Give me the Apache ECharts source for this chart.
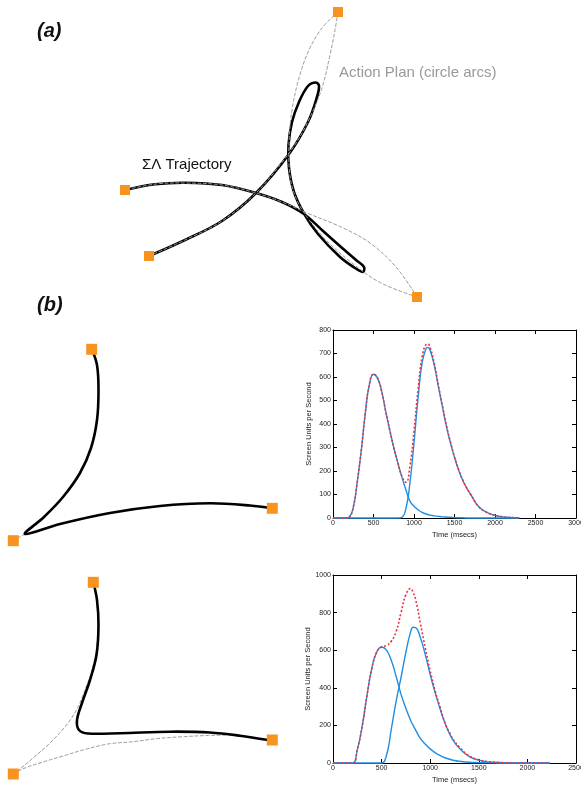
<!DOCTYPE html>
<html>
<head>
<meta charset="utf-8">
<script src="https://cdn.jsdelivr.net/npm/echarts@6/dist/echarts.min.js"></script>
<style>
  html, body { margin: 0; padding: 0; background: #fff; }
  #chart { width: 581px; height: 787px; }
</style>
</head>
<body>
<div id="chart"></div>
<script>
// ---- panel (a): sigma-lognormal trajectory and its action plan (figure units) ----
const trajA = [
  [149, 256], [185, 240], [222, 221], [256, 193], [289, 154], [308, 122], [317, 97], [319, 86],
  [316, 82.5], [308, 86], [299, 102], [292, 122], [288.5, 145], [289, 168], [294, 192], [303.7, 213],
  [318, 234], [340, 257], [355, 268], [363, 272], [364, 267], [356, 260], [341, 247], [323, 231],
  [304, 214], [282, 202], [256, 193], [222, 185], [185, 182.7], [155, 184.3], [125, 190]
];
const planA1 = [[149, 256], [185, 240], [222, 221], [256, 193], [280, 165], [298, 140], [312, 113], [322, 88], [330, 55], [335, 30], [338, 12]];
const planA2 = [[338, 12], [322, 28], [309, 50], [299, 78], [292, 110], [289, 143], [290, 176], [296, 198], [307, 217], [326, 240], [352, 263], [381, 283], [417, 297]];
const planA3 = [[417, 297], [396, 267], [370, 243], [341, 227], [307, 213], [282, 202], [256, 193], [222, 185], [185, 183], [156, 184], [125, 190]];
const targetsA = [[125, 190], [149, 256], [338, 12], [417, 297]];

// ---- panel (b), top: trajectory ----
const trajB1 = [
  [91.7, 349], [97, 365], [98.5, 390], [97, 420], [91, 448], [80, 473], [63, 497], [44, 517], [25, 534],
  [60, 524], [110, 513], [160, 506], [210, 503.3], [250, 505.5], [272, 508.3]
];
const planB1 = [[25, 534], [13.3, 540.7]];
const targetsB1 = [[91.7, 349.3], [13.3, 540.7], [272.3, 508.3]];

// ---- panel (b), bottom: trajectory and action plan ----
const trajB2 = [
  [93.3, 582], [97, 600], [98.5, 625], [96.5, 655], [90, 680], [82, 703], [77, 720], [79, 730],
  [88, 733.5], [120, 733.2], [170, 731.7], [210, 732.5], [240, 735.7], [268, 740]
];
const planB2a = [[93.3, 582.3], [97, 600], [98.3, 620], [97, 645], [92, 670], [85, 690], [78, 707], [68, 723], [50, 743], [33, 758], [20, 769], [13.3, 774]];
const planB2b = [[13.3, 774], [25, 768], [43, 762], [63, 756], [83, 750], [108, 744], [133, 741.7], [158, 738.5], [183, 736.7], [208, 735.5], [233, 735.3], [255, 737.5], [272.3, 740]];
const targetsB2 = [[93.3, 582.3], [13.3, 774], [272.3, 740]];

// ---- speed profiles, top ----
const time1 = [0, 100, 170, 200, 250, 300, 350, 400, 450, 500, 550, 600, 650, 700, 750, 800, 850, 900, 950, 1000,
  1050, 1100, 1150, 1170, 1200, 1250, 1300, 1350, 1400, 1450, 1500, 1550, 1600, 1650, 1700, 1800, 1900, 2000, 2100, 2200, 2300];
const stroke1a = [0, 0, 0, 3, 45, 155, 290, 450, 570, 612, 595, 540, 455, 375, 300, 235, 175, 120, 72, 50,
  35, 24, 17, 15, 12, 9, 7, 5, 4, 3, 2, 1, 1, 0, 0, 0, 0, 0, 0, 0, 0];
const stroke1b = [0, 0, 0, 0, 0, 0, 0, 0, 0, 0, 0, 0, 0, 0, 0, 0, 3, 40, 150, 320,
  510, 660, 722, 726, 712, 650, 560, 475, 390, 320, 258, 205, 162, 128, 100, 48, 24, 11, 5, 2, 1];
const total1 = [0, 0, 0, 3, 45, 155, 290, 450, 570, 612, 595, 540, 455, 375, 300, 235, 178, 152, 222, 370,
  545, 684, 739, 741, 724, 659, 567, 480, 394, 323, 260, 206, 163, 128, 100, 48, 24, 11, 5, 2, 1];

// ---- speed profiles, bottom ----
const time2 = [0, 100, 200, 250, 300, 350, 400, 450, 500, 550, 600, 650, 700, 750, 800, 825, 850, 900, 950, 1000,
  1050, 1100, 1150, 1200, 1250, 1300, 1400, 1500, 1600, 1700, 1800, 1900, 2000, 2100, 2230];
const stroke2a = [0, 0, 0, 70, 195, 360, 505, 590, 617, 600, 545, 460, 365, 290, 225, 200, 175, 130, 100, 75,
  55, 40, 28, 20, 13, 9, 4, 2, 1, 0, 0, 0, 0, 0, 0];
const stroke2b = [0, 0, 0, 0, 0, 0, 0, 0, 0, 40, 180, 330, 455, 590, 700, 722, 720, 665, 575, 470,
  375, 290, 215, 155, 110, 78, 35, 15, 6, 3, 1, 0, 0, 0, 0];
const total2 = [0, 0, 0, 70, 195, 360, 505, 590, 617, 625, 648, 700, 800, 895, 928, 905, 870, 740, 610, 490,
  385, 300, 215, 160, 115, 85, 38, 17, 7, 3, 1, 0, 0, 0, 0];

const FONT = "Liberation Sans";
const BLUE = "#1f8fe3";
const RED = "#ea3340";
const ORANGE = "#f7931e";

const pairs = (xs, ys) => xs.map((x, i) => [x, ys[i]]);

function plotAxes(gridIndex, max, step) {
  return {
    gridIndex, min: 0, max, interval: step, type: "value",
    axisLine: { show: true, onZero: false, lineStyle: { color: "#000", width: 1 } },
    axisTick: { show: true, inside: true, length: 4, lineStyle: { color: "#000" } },
    splitLine: { show: false },
  };
}
const tickLabel = { fontFamily: FONT, fontSize: 7, color: "#222", margin: 2, formatter: (v) => String(v) };
const nameStyle = { fontFamily: FONT, fontSize: 7.5, color: "#222" };

function xAxes(gridIndex, max, step) {
  const base = plotAxes(gridIndex, max, step);
  return [
    { ...base, position: "bottom", name: "Time (msecs)", nameLocation: "middle", nameGap: 13,
      nameTextStyle: nameStyle, axisLabel: tickLabel },
    { ...base, position: "top", axisLabel: { show: false } },
  ];
}

function yAxes(gridIndex, max, step) {
  const base = plotAxes(gridIndex, max, step);
  return [
    { ...base, position: "left", name: "Screen Units per Second", nameLocation: "middle", nameGap: 20,
      nameTextStyle: nameStyle, axisLabel: tickLabel },
    { ...base, position: "right", axisLabel: { show: false } },
  ];
}

// pen paths: one smooth polyline through all points, placed via the hidden axes
function pathSeries(points, style, z) {
  return {
    type: "custom", xAxisIndex: 0, yAxisIndex: 0, data: points, z, silent: true,
    renderItem: (params, api) => {
      if (params.dataIndex !== 0) return null;
      return {
        type: "polyline",
        shape: { points: points.map((p) => api.coord(p)), smooth: 0.35 },
        style: { fill: null, lineCap: "round", lineJoin: "round", ...style },
      };
    },
  };
}
const planStyle = { stroke: "#9a9a9a", lineWidth: 1, lineDash: [3, 2.5] };
const trajStyle = { stroke: "#000", lineWidth: 2.6 };

function targets(data, size) {
  return {
    type: "scatter", xAxisIndex: 0, yAxisIndex: 0, data, symbol: "rect", symbolSize: size,
    itemStyle: { color: ORANGE, opacity: 1 }, silent: true, z: 5,
  };
}

function speed(xi, yi, data, color, dotted) {
  return {
    type: "line", xAxisIndex: xi, yAxisIndex: yi, data, smooth: 0.5,
    showSymbol: false, symbol: "none", clip: false, silent: true, z: dotted ? 4 : 3,
    lineStyle: dotted ? { color, width: 1.6, type: [2, 2] } : { color, width: 1.4 },
  };
}

const chart = echarts.init(document.getElementById("chart"), null, { renderer: "canvas" });
chart.setOption({
  animation: false,
  backgroundColor: "#fff",
  grid: [
    { left: 0, top: 0, width: 581, height: 787, containLabel: false, outerBoundsMode: "none" },
    { left: 333, top: 330, width: 243, height: 188, containLabel: false, outerBoundsMode: "none" },
    { left: 333, top: 575, width: 243, height: 188, containLabel: false, outerBoundsMode: "none" },
  ],
  xAxis: [
    { gridIndex: 0, type: "value", min: 0, max: 581, show: false },
    ...xAxes(1, 3000, 500),
    ...xAxes(2, 2500, 500),
  ],
  yAxis: [
    { gridIndex: 0, type: "value", min: 0, max: 787, inverse: true, show: false },
    ...yAxes(1, 800, 100),
    ...yAxes(2, 1000, 200),
  ],
  graphic: [
    { type: "text", x: 37, y: 31, style: { text: "(a)", font: "italic bold 20px " + FONT, fill: "#111", verticalAlign: "middle" } },
    { type: "text", x: 37, y: 305, style: { text: "(b)", font: "italic bold 20px " + FONT, fill: "#111", verticalAlign: "middle" } },
    { type: "text", x: 142, y: 165, style: { text: "ΣΛ Trajectory", font: "15px " + FONT, fill: "#111", verticalAlign: "middle" } },
    { type: "text", x: 339, y: 73, style: { text: "Action Plan (circle arcs)", font: "15px " + FONT, fill: "#999", verticalAlign: "middle" } },
  ],
  series: [
    pathSeries(trajA, trajStyle, 2),
    pathSeries(planA1, planStyle, 3),
    pathSeries(planA2, planStyle, 3),
    pathSeries(planA3, planStyle, 3),
    targets(targetsA, 10),

    pathSeries(planB1, planStyle, 1),
    pathSeries(trajB1, trajStyle, 2),
    targets(targetsB1, 11),

    pathSeries(planB2a, planStyle, 1),
    pathSeries(planB2b, planStyle, 1),
    pathSeries(trajB2, trajStyle, 2),
    targets(targetsB2, 11),

    speed(1, 1, pairs(time1, stroke1a), BLUE, false),
    speed(1, 1, pairs(time1, stroke1b), BLUE, false),
    speed(1, 1, pairs(time1, total1), RED, true),

    speed(3, 3, pairs(time2, stroke2a), BLUE, false),
    speed(3, 3, pairs(time2, stroke2b), BLUE, false),
    speed(3, 3, pairs(time2, total2), RED, true),
  ],
});
</script>
</body>
</html>
